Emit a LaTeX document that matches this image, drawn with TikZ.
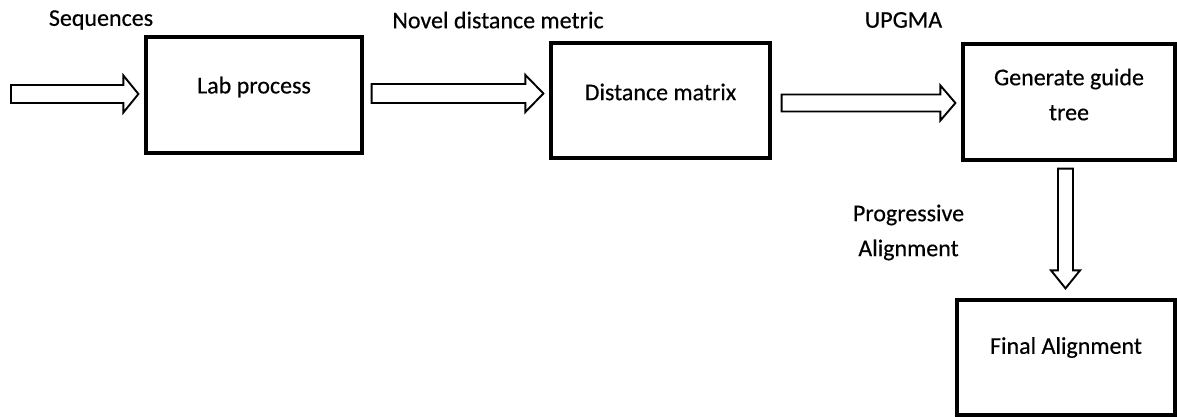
\documentclass[tikz,border=0pt]{standalone}
\usepackage{fontspec}
\setmainfont{Carlito}
\newfontfamily\labfont{Carlito}[UprightFeatures={FakeBold=0.4}]
\usetikzlibrary{calc}
\tikzset{
  box/.style={draw=black, line width=3.2pt, rectangle, inner sep=0pt},
  txt/.style={font=\labfont\fontsize{24}{35}\selectfont, text=black, inner sep=0pt, align=center},
  barrow/.style={draw=black, line width=1.9pt, fill=white, line join=miter},
}
\begin{document}
\begin{tikzpicture}[x=1pt,y=-1pt]
\useasboundingbox (0,0) rectangle (1177,417);
% boxes
\node[box, minimum width=216pt, minimum height=116pt,
  label={[txt,yshift=8pt]center:Lab process}] (lab) at (254,95) {};
\node[box, minimum width=219pt, minimum height=115pt,
  label={[txt,yshift=8.5pt]center:Distance matrix}] (dist) at (660.5,100.5) {};
\node[box, minimum width=212pt, minimum height=116pt,
  label={[txt,yshift=7.5pt]center:Generate guide\\tree}] (tree) at (1069,102) {};
\node[box, minimum width=218pt, minimum height=115pt,
  label={[txt,yshift=10pt]center:Final Alignment}] (final) at (1066,357.5) {};
% labels
\node[txt] (lseq) at (101,20) {Sequences};
\node[txt] (lnov) at (498,20) {Novel distance metric};
\node[txt] (lupg) at (903.5,20) {UPGMA};
\node[txt] (lprog) at (908.5,232.5) {Progressive\\Alignment};
% arrow end points
\coordinate (a1s) at (11,94);
\coordinate (a1t) at ($(lab.west)+(-6,-1)$);
\coordinate (a2s) at ($(lab.east)+(8,-1.5)$);
\coordinate (a2t) at ($(dist.west)+(-6,-7)$);
\coordinate (a3s) at ($(dist.east)+(10,2.5)$);
\coordinate (a3t) at ($(tree.west)+(-6,1)$);
\coordinate (a4s) at ($(tree.south)+(-3.5,7)$);
\coordinate (a4t) at ($(final.north)+(-0.5,-10)$);
% horizontal block arrows
\draw[barrow] ($(a1s)+(0,-9)$) -- ($(a1t)+(-15,-9)$) -- ($(a1t)+(-15,-18.5)$) -- (a1t)
  -- ($(a1t)+(-15,18.5)$) -- ($(a1t)+(-15,9)$) -- ($(a1s)+(0,9)$) -- cycle;
\draw[barrow] ($(a2s)+(0,-9.5)$) -- ($(a2t)+(-18,-9.5)$) -- ($(a2t)+(-18,-18.5)$) -- (a2t)
  -- ($(a2t)+(-18,18.5)$) -- ($(a2t)+(-18,9.5)$) -- ($(a2s)+(0,9.5)$) -- cycle;
\draw[barrow] ($(a3s)+(0,-8.5)$) -- ($(a3t)+(-15,-8.5)$) -- ($(a3t)+(-15,-17.5)$) -- (a3t)
  -- ($(a3t)+(-15,17.5)$) -- ($(a3t)+(-15,8.5)$) -- ($(a3s)+(0,8.5)$) -- cycle;
% vertical block arrow
\draw[barrow] ($(a4s)+(-7.5,0)$) -- ($(a4t)+(-7.5,-18)$) -- ($(a4t)+(-14.5,-18)$) -- (a4t)
  -- ($(a4t)+(14.5,-18)$) -- ($(a4t)+(7.5,-18)$) -- ($(a4s)+(7.5,0)$) -- cycle;
\end{tikzpicture}
\end{document}
